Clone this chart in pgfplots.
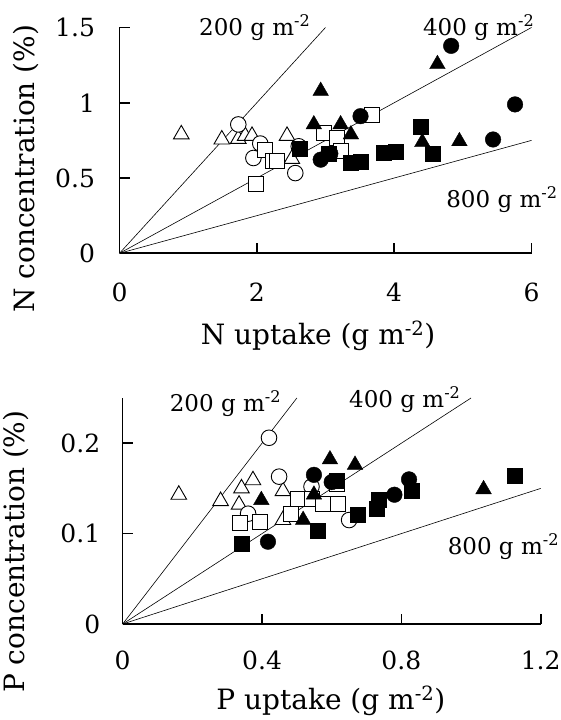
\documentclass[border=0pt]{standalone}
\usepackage{fontspec}
\setmainfont{DejaVu Serif}
\usepackage{pgfplots}
\pgfplotsset{compat=1.18}

\pgfplotsset{
  panel/.style={
    scale only axis, clip=false,
    axis x line=bottom, axis y line=left,
    axis line style={-, line width=1.6pt},
    tick style={line width=1.6pt, black},
    tick align=inside, major tick length=10pt,
    xmin=0, ymin=0,
    /pgf/number format/assume math mode=true,
    tick label style={font=\fontsize{25}{29}\selectfont},
    label style={font=\fontsize{28}{32}\selectfont},
  },
  ref/.style={black, line width=0.6pt, no markers},
  oc/.style={only marks, mark=*, mark size=7.8pt, mark options={fill=white, draw=black, line width=0.9pt}},
  os/.style={only marks, mark=square*, mark size=7.5pt, mark options={fill=white, draw=black, line width=0.9pt}},
  ot/.style={only marks, mark=triangle*, mark size=9pt, mark options={fill=white, draw=black, line width=0.9pt}},
  fc/.style={only marks, mark=*, mark size=7.8pt, mark options={fill=black, draw=black}},
  fs/.style={only marks, mark=square*, mark size=7.5pt, mark options={fill=black, draw=black}},
  ft/.style={only marks, mark=triangle*, mark size=9pt, mark options={fill=black, draw=black}},
}
\newcommand{\ann}{\fontsize{23}{27}\selectfont}

\begin{document}
\begin{tikzpicture}
\useasboundingbox (0,0) rectangle (561pt,720pt);

% N panel
\begin{axis}[panel,
  at={(119.5pt,466.7pt)}, anchor=south west,
  width=412pt, height=225.8pt,
  xmax=6, ymax=1.5,
  xtick={0,2,4,6}, ytick={0,0.5,1,1.5},
  xticklabel shift=26pt, yticklabel shift=21pt,
  xlabel={N uptake (g m\textsuperscript{-2})},
  ylabel={N concentration (\%)},
  xlabel style={at={(axis description cs:0.482,-0.365)}, anchor=center},
  ylabel style={at={(axis description cs:-0.228,0.375)}, anchor=center},
]
\addplot[ref] coordinates {(0,0) (3,1.5)};
\addplot[ref] coordinates {(0,0) (6,1.5)};
\addplot[ref] coordinates {(0,0) (6,0.75)};
\addplot[ot] coordinates {(0.90,0.79) (1.49,0.756) (1.73,0.76) (1.83,0.78) (1.93,0.78) (2.44,0.78) (2.51,0.627)};
\addplot[oc] coordinates {(1.73,0.856) (2.05,0.729) (1.95,0.633) (2.61,0.711) (2.56,0.533)};
\addplot[os] coordinates {(1.98,0.46) (2.12,0.689) (2.24,0.611) (2.29,0.616) (2.98,0.80) (3.17,0.767) (3.22,0.678) (3.68,0.916)};
\addplot[fc] coordinates {(2.93,0.622) (3.07,0.662) (3.51,0.911) (4.83,1.378) (5.44,0.756) (5.76,0.989)};
\addplot[ft] coordinates {(2.93,1.078) (2.83,0.856) (3.22,0.856) (3.37,0.789) (4.63,1.256) (4.41,0.738) (4.95,0.744)};
\addplot[fs] coordinates {(2.63,0.693) (3.05,0.662) (3.37,0.604) (3.51,0.611) (3.85,0.671) (4.02,0.678) (4.39,0.844) (4.56,0.662)};
\node[font=\ann] at (axis cs:1.97,1.50) {200 g m\textsuperscript{-2}};
\node[font=\ann] at (axis cs:5.23,1.50) {400 g m\textsuperscript{-2}};
\node[font=\ann] at (axis cs:5.57,0.36) {800 g m\textsuperscript{-2}};
\end{axis}

% P panel
\begin{axis}[panel,
  at={(122.7pt,96pt)}, anchor=south west,
  width=418pt, height=226pt,
  xmax=1.2, ymax=0.25,
  xtick={0,0.4,0.8,1.2}, ytick={0,0.1,0.2},
  xticklabel shift=23pt, yticklabel shift=19pt,
  xlabel={P uptake (g m\textsuperscript{-2})},
  ylabel={P concentration (\%)},
  xlabel style={at={(axis description cs:0.498,-0.34)}, anchor=center},
  ylabel style={at={(axis description cs:-0.255,0.32)}, anchor=center},
]
\addplot[ref] coordinates {(0,0) (0.5,0.25)};
\addplot[ref] coordinates {(0,0) (1.0,0.25)};
\addplot[ref] coordinates {(0,0) (1.2,0.15)};
\addplot[ot] coordinates {(0.161,0.143) (0.281,0.136) (0.341,0.150) (0.374,0.159) (0.334,0.132) (0.460,0.147) (0.460,0.115)};
\addplot[oc] coordinates {(0.420,0.206) (0.449,0.163) (0.360,0.122) (0.542,0.152) (0.650,0.115)};
\addplot[os] coordinates {(0.336,0.112) (0.395,0.113) (0.484,0.122) (0.504,0.138) (0.542,0.138) (0.576,0.133) (0.619,0.133) (0.616,0.155)};
\addplot[fc] coordinates {(0.417,0.091) (0.549,0.165) (0.600,0.157) (0.780,0.143) (0.822,0.160)};
\addplot[ft] coordinates {(0.398,0.137) (0.549,0.143) (0.518,0.115) (0.595,0.182) (0.667,0.176) (1.036,0.149)};
\addplot[fs] coordinates {(0.343,0.089) (0.561,0.103) (0.614,0.158) (0.676,0.121) (0.734,0.138) (0.729,0.127) (0.830,0.147) (1.125,0.164)};
\node[font=\ann] at (axis cs:0.295,0.244) {200 g m\textsuperscript{-2}};
\node[font=\ann] at (axis cs:0.81,0.248) {400 g m\textsuperscript{-2}};
\node[font=\ann] at (axis cs:1.093,0.0855) {800 g m\textsuperscript{-2}};
\end{axis}
\end{tikzpicture}
\end{document}
